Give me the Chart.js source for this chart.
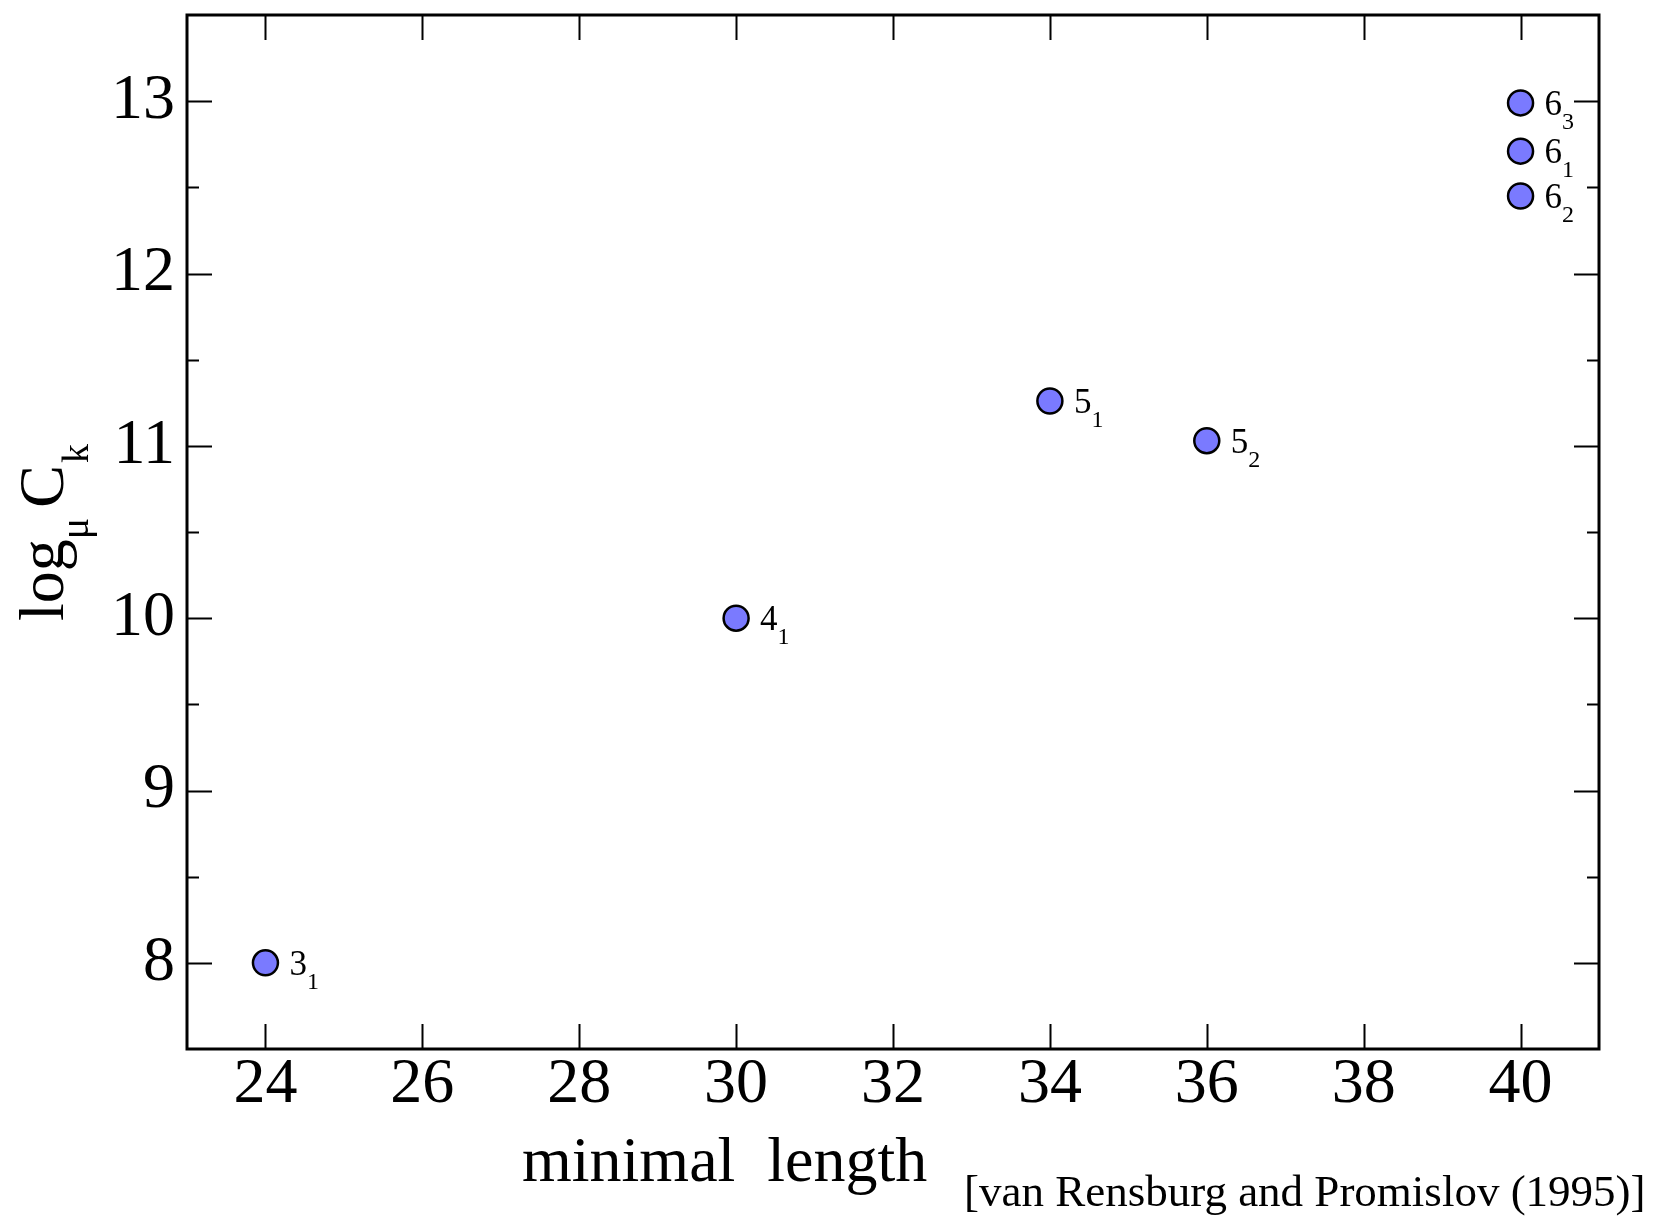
<!DOCTYPE html>
<html>
<head>
<meta charset="utf-8">
<script src="https://cdn.jsdelivr.net/npm/chart.js@4.4.0/dist/chart.umd.min.js"></script>
<style>
    body { margin: 0; background: #ffffff; }
    #wrap { width: 1659px; height: 1219px; }
</style>
</head>
<body>
<div id="wrap"><canvas id="myChart" width="1659" height="1219"></canvas></div>
<script>
// Data
const minimalLength = [24, 30, 34, 36, 40, 40, 40];          // x value
const logC = [8.0, 10.0, 11.26, 11.03, 12.99, 12.71, 12.45];  // y value
const knotNumber = ['3', '4', '5', '5', '6', '6', '6'];        // label main digit
const knotIndex = ['1', '1', '1', '2', '3', '1', '2'];         // label subscript
const xTicks = [24, 26, 28, 30, 32, 34, 36, 38, 40];
const yTicks = [8, 9, 10, 11, 12, 13];

const serif = '"Liberation Serif", "Times New Roman", serif';

let points = [];
for (let i = 0; i < minimalLength.length; i++) {
    points.push({ x: minimalLength[i], y: logC[i] });
}

// 안쪽으로 향하는 눈금 + 테두리
const frameTicks = {
    id: 'frameTicks',
    afterDraw(chart) {
        const ctx = chart.ctx;
        const a = chart.chartArea;
        const xs = chart.scales.x;
        const ys = chart.scales.y;
        ctx.save();
        ctx.strokeStyle = '#000';
        ctx.lineWidth = 2;
        ctx.beginPath();
        xTicks.forEach(function(v) {
            const px = Math.round(xs.getPixelForValue(v)) + 0.5;
            ctx.moveTo(px, a.bottom); ctx.lineTo(px, a.bottom - 25);
            ctx.moveTo(px, a.top); ctx.lineTo(px, a.top + 25);
        });
        yTicks.forEach(function(v) {
            const py = Math.round(ys.getPixelForValue(v)) + 0.5;
            ctx.moveTo(a.left, py); ctx.lineTo(a.left + 25, py);
            ctx.moveTo(a.right, py); ctx.lineTo(a.right - 25, py);
            // minor tick
            const m = v - 0.5;
            if (m > ys.min) {
                const pm = Math.round(ys.getPixelForValue(m)) + 0.5;
                ctx.moveTo(a.left, pm); ctx.lineTo(a.left + 12, pm);
                ctx.moveTo(a.right, pm); ctx.lineTo(a.right - 12, pm);
            }
        });
        const last = yTicks[yTicks.length - 1] + 0.5;
        if (last < ys.max) {
            const pl = Math.round(ys.getPixelForValue(last)) + 0.5;
            ctx.moveTo(a.left, pl); ctx.lineTo(a.left + 12, pl);
            ctx.moveTo(a.right, pl); ctx.lineTo(a.right - 12, pl);
        }
        ctx.stroke();
        ctx.lineWidth = 3;
        ctx.strokeRect(a.left, a.top, a.right - a.left, a.bottom - a.top);
        ctx.restore();
    }
};

// 점 옆의 매듭 이름 (예: 5 아래첨자 1)
const knotLabels = {
    id: 'knotLabels',
    afterDatasetsDraw(chart) {
        const ctx = chart.ctx;
        const meta = chart.getDatasetMeta(0);
        ctx.save();
        ctx.fillStyle = '#000';
        ctx.textAlign = 'left';
        ctx.textBaseline = 'alphabetic';
        meta.data.forEach(function(pt, i) {
            ctx.font = '35px ' + serif;
            const x0 = pt.x + 24;
            ctx.fillText(knotNumber[i], x0, pt.y + 12);
            const w = ctx.measureText(knotNumber[i]).width;
            ctx.font = '24px ' + serif;
            ctx.fillText(knotIndex[i], x0 + w, pt.y + 26);
        });
        ctx.restore();
    }
};

// 축 제목과 출처
const titles = {
    id: 'titles',
    afterDraw(chart) {
        const ctx = chart.ctx;
        ctx.save();
        ctx.fillStyle = '#000';
        ctx.textBaseline = 'alphabetic';
        ctx.textAlign = 'left';

        ctx.font = '64px ' + serif;
        ctx.fillText('minimal  length', 522, 1181);

        ctx.font = '45px ' + serif;
        ctx.fillText('[van Rensburg and Promislov (1995)]', 964, 1206);

        // y축 제목: log_μ C_k
        ctx.translate(63, 621);
        ctx.rotate(-Math.PI / 2);
        let cx = 0;
        ctx.font = '64px ' + serif;
        ctx.fillText('log', cx, 0);
        cx += ctx.measureText('log').width;
        ctx.font = '40px ' + serif;
        ctx.fillText('\u03bc', cx, 25);
        cx += ctx.measureText('\u03bc').width + 10;
        ctx.font = '64px ' + serif;
        ctx.fillText('C', cx, 0);
        cx += ctx.measureText('C').width + 2;
        ctx.font = '38px ' + serif;
        ctx.fillText('k', cx, 25);
        ctx.restore();
    }
};

const ctx = document.getElementById('myChart');
const config = {
    type: 'scatter',
    data: {
        datasets: [{
            label: 'knots',
            data: points,
            backgroundColor: 'rgb(122,122,255)',
            borderColor: '#000',
            borderWidth: 2.5,
            pointRadius: 12.5,
            pointHoverRadius: 12.5
        }]
    },
    options: {
        responsive: false,
        animation: false,
        layout: { padding: { top: 11, right: 60, left: 0, bottom: 0 } },
        plugins: {
            legend: { display: false },
            tooltip: { enabled: false }
        },
        scales: {
            x: {
                type: 'linear',
                min: 23,
                max: 41,
                grid: { display: false, drawTicks: false },
                border: { display: false },
                ticks: {
                    padding: 4,
                    color: '#000',
                    font: { family: serif, size: 64, lineHeight: 1 }
                },
                afterBuildTicks: function(scale) {
                    scale.ticks = xTicks.map(function(v) { return { value: v }; });
                },
                afterFit: function(scale) {
                    scale.height = 170;
                    scale.paddingLeft = 0;
                    scale.paddingRight = 0;
                }
            },
            y: {
                type: 'linear',
                min: 7.5,
                max: 13.5,
                grid: { display: false, drawTicks: false },
                border: { display: false },
                ticks: {
                    padding: 12,
                    color: '#000',
                    font: { family: serif, size: 64, lineHeight: 1 }
                },
                afterBuildTicks: function(scale) {
                    scale.ticks = yTicks.map(function(v) { return { value: v }; });
                },
                afterFit: function(scale) {
                    scale.width = 187;
                    scale.paddingTop = 0;
                    scale.paddingBottom = 0;
                }
            }
        }
    },
    plugins: [frameTicks, knotLabels, titles]
};

const myChart = new Chart(ctx, config);
</script>
</body>
</html>
